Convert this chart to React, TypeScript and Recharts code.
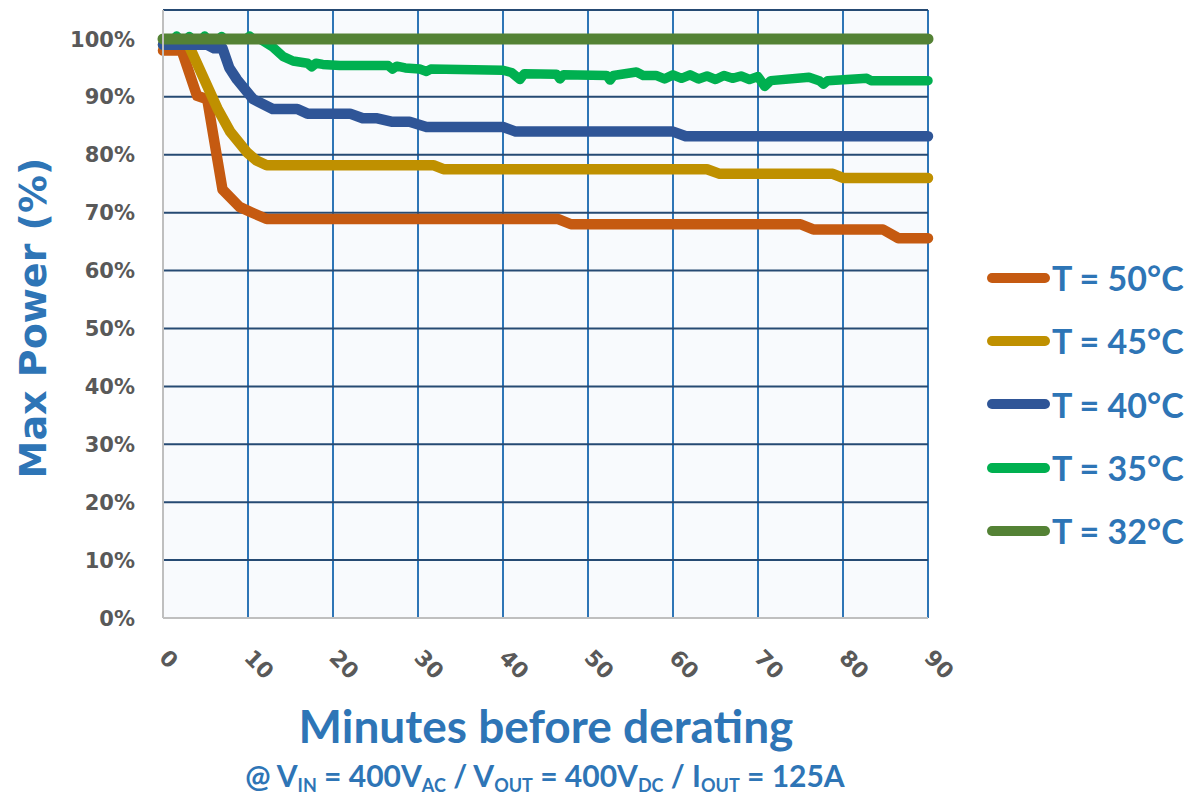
import React from 'react';
import { LineChart, Line, XAxis, YAxis, CartesianGrid, Legend } from 'recharts';

const minuteTicks = [0, 10, 20, 30, 40, 50, 60, 70, 80, 90];
const powerTicks = [0, 10, 20, 30, 40, 50, 60, 70, 80, 90, 100];

// T = 50°C
const t50Minutes = [0, 2.2, 4, 5.2, 7, 9, 10.5, 12.2, 46.5, 48, 75, 76.5, 84.7, 86.5, 90];
const t50Power = [98, 98, 90.2, 89.6, 74, 71, 70, 68.9, 68.9, 68, 68, 67.1, 67.1, 65.6, 65.6];

// T = 45°C
const t45Minutes = [0, 3, 6.4, 7.9, 9.9, 11, 12.2, 31.8, 33, 64, 65.5, 78.8, 80, 90];
const t45Power = [99, 99, 88, 84, 80.4, 79, 78.2, 78.2, 77.5, 77.5, 76.7, 76.7, 76, 76];

// T = 40°C
const t40Minutes = [0, 5.2, 6, 7, 7.8, 8.7, 10.6, 12.9, 15.8, 17, 22, 23.5, 25.2, 27, 29, 31, 40, 41.5, 60, 61.5, 90];
const t40Power = [99, 99, 98.4, 98.4, 95, 93, 89.6, 87.9, 87.9, 87.1, 87.1, 86.3, 86.3, 85.7, 85.7, 84.8, 84.8, 84, 84, 83.2, 83.2];

// T = 35°C (noisy trace)
const t35Minutes = [
  0, 1.3, 1.6, 1.9, 2.8, 3.1, 3.4, 4.6, 4.9, 5.2, 6.6, 6.9, 7.2, 9.8, 10.2, 10.6, 11.4, 12.9, 14.1, 15.3,
  17, 17.5, 18, 18.8, 20.8, 26.5, 27, 27.5, 28.5, 30.2, 31, 31.5, 40, 41, 42, 42.5, 46.3, 46.7, 47.1,
  52.2, 52.6, 53, 55.7, 56.5, 58, 59, 60, 61, 62, 63, 64, 65, 66, 67, 68, 69, 70, 70.8, 71.5, 76,
  77.2, 77.7, 78.2, 82.8, 83.3, 90,
];
const t35Power = [
  100, 100, 100.5, 100, 100, 100.4, 100, 100, 100.5, 100, 100, 100.4, 100, 100, 100.5, 100, 100, 98.6, 97, 96.2,
  95.8, 95.2, 95.8, 95.6, 95.4, 95.4, 94.8, 95.3, 95, 94.8, 94.4, 94.8, 94.6, 94.2, 93, 94, 93.9, 93.1, 93.8,
  93.7, 92.9, 93.7, 94.3, 93.7, 93.7, 93.1, 93.8, 93.2, 93.8, 93.1, 93.6, 93, 93.7, 93.2, 93.6, 93, 93.5, 91.8, 92.8, 93.4,
  92.8, 92.2, 92.8, 93.2, 92.8, 92.8,
];

// T = 32°C
const t32Minutes = [0, 90];
const t32Power = [100, 100];

const toPoints = (minutes: number[], power: number[]) =>
  minutes.map((minute, i) => ({ minute, power: power[i] }));

const series = [
  { name: 'T = 50°C', color: '#c55a11', width: 10.5, data: toPoints(t50Minutes, t50Power) },
  { name: 'T = 45°C', color: '#bf9000', width: 10.5, data: toPoints(t45Minutes, t45Power) },
  { name: 'T = 40°C', color: '#2f5597', width: 10.5, data: toPoints(t40Minutes, t40Power) },
  { name: 'T = 35°C', color: '#00b050', width: 9.5, data: toPoints(t35Minutes, t35Power) },
  { name: 'T = 32°C', color: '#548235', width: 11, data: toPoints(t32Minutes, t32Power) },
];
const seriesOrder = series.map((s) => s.name);

const BLUE_TEXT = '#2e75b6';
const TICK_GREY = '#595959';

const MinuteTick = (props: any) => {
  const { x, y, payload } = props;
  return (
    <g transform={`translate(${x - 5},${y + 41})`}>
      <text
        transform="rotate(45)"
        textAnchor="start"
        fontFamily="DejaVu Sans"
        fontWeight="bold"
        fontSize={22}
        fill={TICK_GREY}
      >
        {payload.value}
      </text>
    </g>
  );
};

const PowerTick = (props: any) => {
  const { x, y, payload } = props;
  return (
    <text
      x={x - 28}
      y={y}
      dy="0.36em"
      textAnchor="end"
      fontFamily="DejaVu Sans"
      fontWeight="bold"
      fontSize={21}
      fill={TICK_GREY}
    >
      {`${payload.value}%`}
    </text>
  );
};

const renderLegend = (props: any) => {
  const items = [...(props.payload || [])].sort(
    (a: any, b: any) => seriesOrder.indexOf(a.value) - seriesOrder.indexOf(b.value)
  );
  return (
    <div style={{ display: 'flex', flexDirection: 'column' }}>
      {items.map((entry: any) => (
        <div key={entry.value} style={{ display: 'flex', alignItems: 'center', height: 63.3 }}>
          <div style={{ width: 63, height: 10, borderRadius: 5, background: entry.color }} />
          <span
            style={{
              marginLeft: 2,
              fontFamily: 'Lato',
              fontWeight: 700,
              fontSize: 34,
              color: BLUE_TEXT,
              whiteSpace: 'nowrap',
            }}
          >
            {entry.value}
          </span>
        </div>
      ))}
    </div>
  );
};

export default function App() {
  return (
    <div style={{ position: 'absolute', left: 0, top: 0, width: 1192, height: 796, background: '#fff' }}>
      <LineChart width={1192} height={796} margin={{ top: 10, right: 264, bottom: 0, left: 0 }}>
        <CartesianGrid horizontal={false} stroke="#2e75b6" strokeWidth={2} fill="#f8fafd" />
        <CartesianGrid vertical={false} stroke="#264a73" strokeWidth={2} />
        <XAxis
          dataKey="minute"
          type="number"
          domain={[0, 90]}
          ticks={minuteTicks}
          interval={0}
          height={178}
          tickLine={false}
          tickSize={0}
          tickMargin={0}
          axisLine={{ stroke: '#bfbfbf', strokeWidth: 2 }}
          tick={<MinuteTick />}
          allowDuplicatedCategory={false}
        />
        <YAxis
          type="number"
          domain={[0, 105]}
          ticks={powerTicks}
          interval={0}
          width={163}
          tickLine={false}
          tickSize={0}
          tickMargin={0}
          axisLine={{ stroke: '#bfbfbf', strokeWidth: 2 }}
          tick={<PowerTick />}
        />
        <Legend
          layout="horizontal"
          verticalAlign="middle"
          align="center"
          content={renderLegend}
          wrapperStyle={{ left: 987, top: 246, width: 205, height: 320 }}
        />
        {series.map((s) => (
          <Line
            key={s.name}
            name={s.name}
            data={s.data}
            dataKey="power"
            type="linear"
            stroke={s.color}
            strokeWidth={s.width}
            strokeLinecap="round"
            strokeLinejoin="round"
            dot={false}
            activeDot={false}
            isAnimationActive={false}
          />
        ))}
      </LineChart>
      <svg
        width={1192}
        height={796}
        style={{ position: 'absolute', left: 0, top: 0, pointerEvents: 'none' }}
      >
        <text
          transform="translate(46,318) rotate(-90)"
          textAnchor="middle"
          fontFamily="DejaVu Sans"
          fontWeight="bold"
          fontSize={38}
          fill={BLUE_TEXT}
        >
          Max Power (%)
        </text>
        <text x={546} y={743} textAnchor="middle" fontFamily="Lato" fontWeight="bold" fontSize={46} fill={BLUE_TEXT}>
          Minutes before derating
        </text>
        <text x={545} y={787} textAnchor="middle" fontFamily="Lato" fontWeight="bold" fontSize={30} fill={BLUE_TEXT}>
          @ V
          <tspan fontSize={18} dy={5}>IN</tspan>
          <tspan dy={-5}> = 400V</tspan>
          <tspan fontSize={18} dy={5}>AC</tspan>
          <tspan dy={-5}> / V</tspan>
          <tspan fontSize={18} dy={5}>OUT</tspan>
          <tspan dy={-5}> = 400V</tspan>
          <tspan fontSize={18} dy={5}>DC</tspan>
          <tspan dy={-5}> / I</tspan>
          <tspan fontSize={18} dy={5}>OUT</tspan>
          <tspan dy={-5}> = 125A</tspan>
        </text>
      </svg>
    </div>
  );
}
